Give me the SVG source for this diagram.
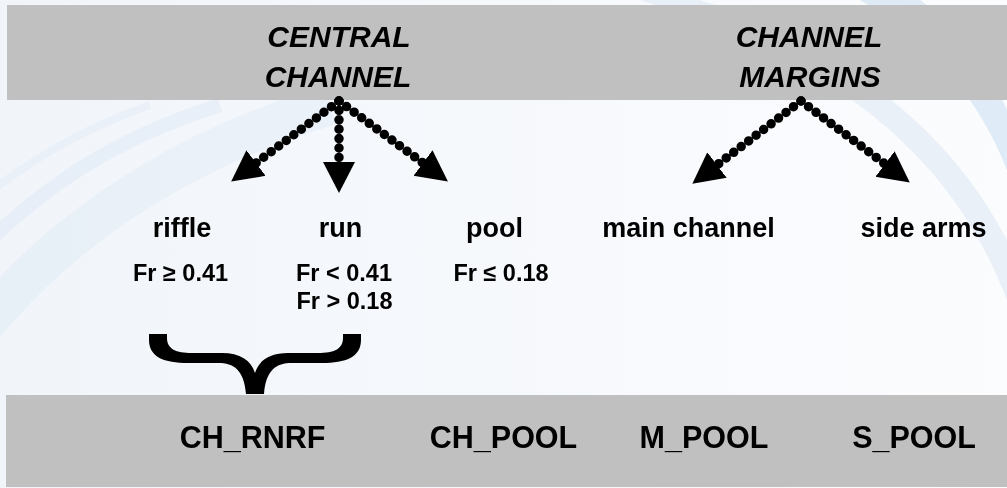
<svg xmlns="http://www.w3.org/2000/svg" width="1007" height="488" viewBox="0 0 1007 488">
<defs>
  <linearGradient id="bg" x1="0" y1="0" x2="1" y2="0">
    <stop offset="0" stop-color="#f1f5fa"/>
    <stop offset="1" stop-color="#fbfcfe"/>
  </linearGradient>
  <marker id="head" markerUnits="userSpaceOnUse" markerWidth="32" markerHeight="34" viewBox="0 -17 32 34" refX="0" refY="0" orient="auto">
    <path d="M0,-16 L31,0 L0,16 Z" fill="#000"/>
  </marker>
  <style>
    .band { fill: #c0c0c0; }
    .hdr { font-family: "Liberation Sans", Arial, sans-serif; font-weight: bold; font-style: italic; font-size: 30px; fill: #000; text-anchor: middle; }
    .lbl { font-family: "Liberation Sans", Arial, sans-serif; font-weight: bold; font-size: 27px; fill: #000; text-anchor: middle; }
    .fr { font-family: "Liberation Sans", Arial, sans-serif; font-weight: bold; font-size: 23.5px; fill: #000; text-anchor: middle; }
    .cls { font-family: "Liberation Sans", Arial, sans-serif; font-weight: bold; font-size: 30.5px; fill: #000; text-anchor: middle; }
    .dot { fill: none; stroke: #000; stroke-width: 9.5; stroke-linecap: round; stroke-dasharray: 0 9.4; marker-end: url(#head); }
    .sw { fill: none; stroke: #d6e4f3; }
  </style>
</defs>
<!-- background -->
<rect x="0" y="0" width="1007" height="488" fill="url(#bg)"/>
<g id="swooshes" opacity="0.7">
  <path class="sw" d="M-20,330 C60,230 180,150 330,105" stroke-width="40" opacity="0.45"/>
  <path class="sw" d="M-20,250 C40,190 110,140 220,105" stroke-width="14" opacity="0.5"/>
  <path class="sw" d="M-20,200 C30,160 80,130 150,105" stroke-width="8" opacity="0.4"/>
  <path d="M700,0 C820,40 940,110 1007,240 L1007,300 C950,150 830,60 640,0 Z" fill="#d8e6f4" opacity="0.7"/>
  <path d="M860,0 C930,40 980,100 1007,170 L1007,110 C990,70 960,30 920,0 Z" fill="#c9dcf0" opacity="0.8"/>
</g>
<g id="top-band">
  <rect class="band" x="7" y="5" width="1000" height="95"/>
</g>
<g id="central-channel">
  <text class="hdr" x="339" y="47">CENTRAL</text>
  <text class="hdr" x="338" y="87">CHANNEL</text>
</g>
<g id="channel-margins">
  <text class="hdr" x="809" y="47">CHANNEL</text>
  <text class="hdr" x="810" y="87">MARGINS</text>
</g>
<g id="connectors">
  <path class="dot" d="M339,101 L256,163"/>
  <path class="dot" d="M339,101 L339,162"/>
  <path class="dot" d="M339,101 L423,163"/>
  <path class="dot" d="M801,101 L717,165"/>
  <path class="dot" d="M801,101 L885,164"/>
</g>
<g id="riffle">
  <text class="lbl" x="182" y="237">riffle</text>
  <text class="fr" x="180.5" y="281">Fr ≥ 0.41</text>
</g>
<g id="run">
  <text class="lbl" x="340.5" y="237">run</text>
  <text class="fr" x="344" y="281">Fr &lt; 0.41</text>
  <text class="fr" x="344.5" y="309">Fr &gt; 0.18</text>
</g>
<g id="pool">
  <text class="lbl" x="494.5" y="237">pool</text>
  <text class="fr" x="501" y="281">Fr ≤ 0.18</text>
</g>
<g id="main-channel">
  <text class="lbl" x="688.5" y="237">main channel</text>
</g>
<g id="side-arms">
  <text class="lbl" x="923.5" y="237">side arms</text>
</g>
<g id="brace">
  <path d="M149,334 L167,334 L167,338 C167,349 176,353 192,353 L222,353 C240,353 251,360 255,373 C259,360 270,353 288,353 L318,353 C334,353 343,349 343,338 L343,334 L361,334 L361,340 C361,357 346,363 322,363 L292,363 C276,363 266,370 264,394 L246,394 C244,370 234,363 218,363 L188,363 C164,363 149,357 149,340 Z" fill="#000"/>
</g>
<g id="bottom-band">
  <rect class="band" x="6" y="395" width="1001" height="92"/>
</g>
<g id="classes">
  <text class="cls" x="252.5" y="448">CH_RNRF</text>
  <text class="cls" x="503.5" y="448">CH_POOL</text>
  <text class="cls" x="704" y="448">M_POOL</text>
  <text class="cls" x="914" y="448">S_POOL</text>
</g>
</svg>
